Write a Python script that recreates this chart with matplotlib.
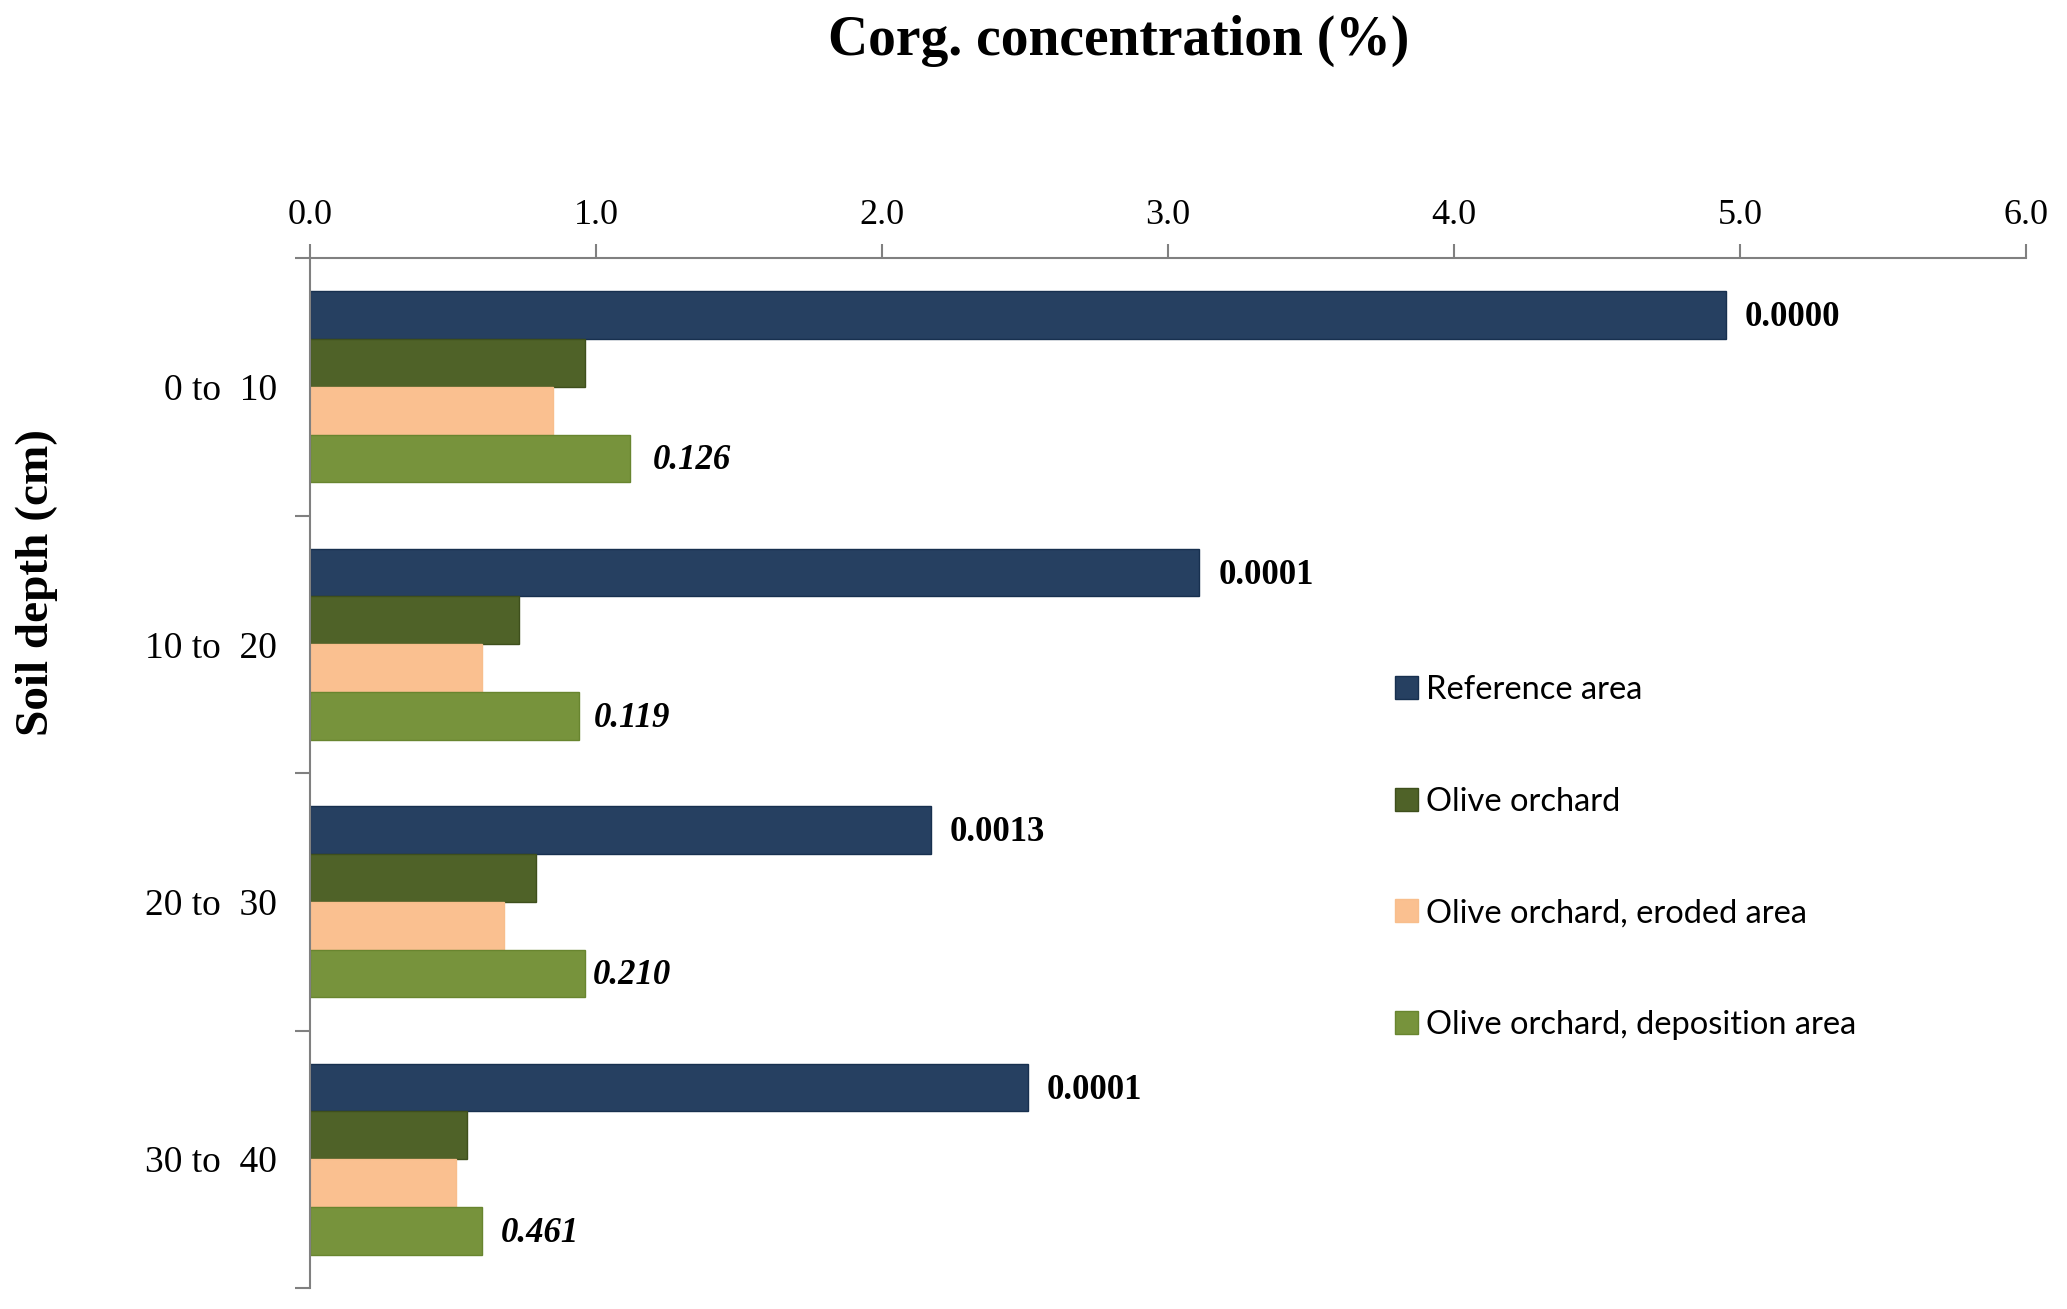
import matplotlib
matplotlib.use('Agg')
import matplotlib.pyplot as plt
import numpy as np

# Data
depths = ['0 to  10', '10 to  20', '20 to  30', '30 to  40']
series = ['Reference area', 'Olive orchard', 'Olive orchard, eroded area',
          'Olive orchard, deposition area']
reference = [4.95, 3.11, 2.17, 2.51]
olive = [0.96, 0.73, 0.79, 0.55]
eroded = [0.85, 0.60, 0.68, 0.51]
deposition = [1.12, 0.94, 0.96, 0.60]
ref_labels = ['0.0000', '0.0001', '0.0013', '0.0001']
dep_labels = ['0.126', '0.119', '0.210', '0.461']
dep_gap = [16.5, 11, 6, 13.5]  # label offsets (points) as placed in the original

colors = ['#264061', '#4F6228', '#FAC090', '#77933C']
edges = ['#17304F', '#3E4F1C', '#F8BE8C', '#68852F']

fig = plt.figure(figsize=(20.67, 13.09), dpi=100)
ax = fig.add_axes([310 / 2067, 1 - 1288 / 1309, 1716 / 2067, 1030 / 1309])

y = np.arange(len(depths))
h = 0.1856
values = [reference, olive, eroded, deposition]
for k, vals in enumerate(values):
    ax.barh(y + (k - 1.5) * h, vals, height=h, color=colors[k],
            edgecolor=edges[k], linewidth=1, label=series[k])

# p-value labels
for i in range(len(depths)):
    ax.annotate(ref_labels[i], (reference[i], y[i] - 1.5 * h),
                xytext=(13.5, -2), textcoords='offset points', va='center',
                ha='left', fontsize=25, fontweight='bold',
                family='Liberation Serif')
    ax.annotate(dep_labels[i], (deposition[i], y[i] + 1.5 * h),
                xytext=(dep_gap[i], -1.5), textcoords='offset points', va='center',
                ha='left', fontsize=25, fontweight='bold', fontstyle='italic',
                family='Liberation Serif')

ax.set_xlim(0, 6)
ax.set_ylim(3.5, -0.5)

# x axis on top
ax.xaxis.tick_top()
ax.set_xticks(np.arange(0, 6.1, 1.0))
ax.set_xticklabels(['%.1f' % v for v in np.arange(0, 6.1, 1.0)],
                   family='Liberation Serif', fontsize=26)
ax.tick_params(axis='x', direction='out', length=10, width=1.5,
               color='#808080', pad=9)

# y ticks at group boundaries, labels at centres
ax.set_yticks(np.arange(-0.5, 3.6, 1.0))
ax.set_yticklabels([])
ax.set_yticks(y, minor=True)
ax.set_yticklabels(depths, minor=True, family='Liberation Serif', fontsize=27)
ax.tick_params(axis='y', which='major', direction='out', length=11,
               width=1.5, color='#808080')
ax.tick_params(axis='y', which='minor', length=0, pad=24)

for s in ['right', 'bottom']:
    ax.spines[s].set_visible(False)
for s in ['left', 'top']:
    ax.spines[s].set_color('#808080')
    ax.spines[s].set_linewidth(1.5)

fig.text(1119 / 2067, 1 - 55 / 1309, 'Corg. concentration (%)',
         ha='center', va='baseline', fontsize=40, fontweight='bold',
         family='Liberation Serif')
fig.text(37 / 2067, 1 - 583 / 1309, 'Soil depth (cm)', rotation=90,
         ha='center', va='center', fontsize=34, fontweight='bold',
         family='Liberation Serif')

ax.legend(loc='upper left', bbox_to_anchor=(1395 / 2067, 1 - 675 / 1309),
          bbox_transform=fig.transFigure, frameon=False,
          prop={'family': 'Lato', 'size': 23.5}, handlelength=0.7,
          handleheight=0.7, handletextpad=0.25, labelspacing=2.5,
          borderpad=0, borderaxespad=0)

fig.savefig('out.png', dpi=100)
